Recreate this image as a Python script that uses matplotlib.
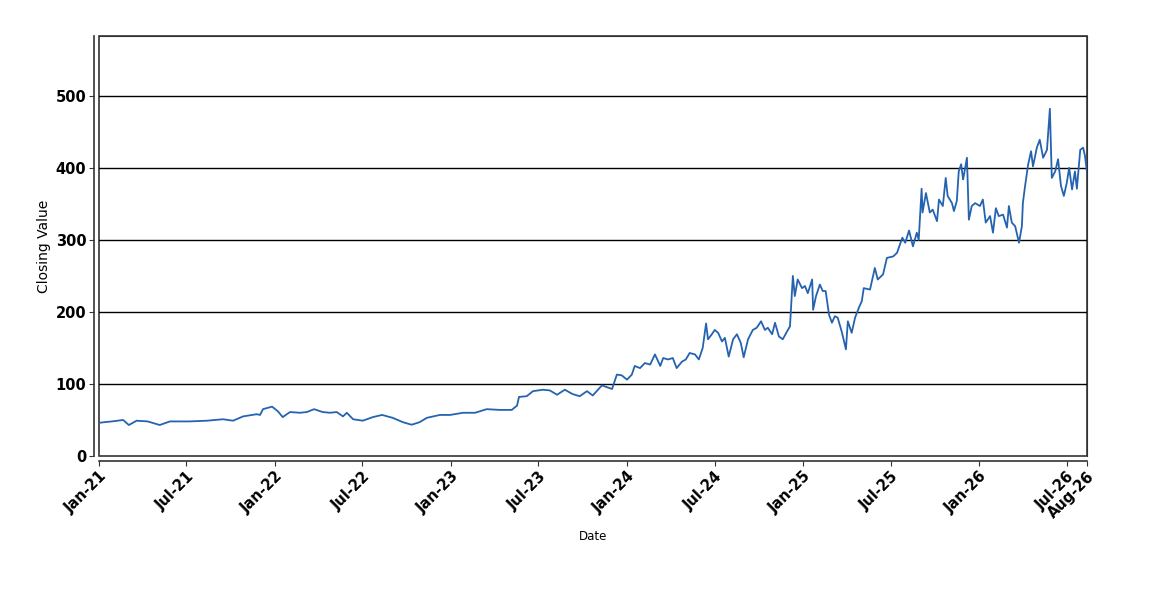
import matplotlib
matplotlib.use("Agg")
import matplotlib.pyplot as plt
import matplotlib.dates as mdates
import pandas as pd

# closing values
dates = [
    "2021-01-01", "2021-01-13", "2021-01-28", "2021-02-20", "2021-03-04", "2021-03-20",
    "2021-04-12", "2021-05-07", "2021-05-28", "2021-07-08", "2021-08-13", "2021-09-15",
    "2021-10-06", "2021-10-27", "2021-11-24", "2021-12-01", "2021-12-07", "2021-12-26",
    "2022-01-07", "2022-01-17", "2022-02-01", "2022-02-22", "2022-03-08", "2022-03-23",
    "2022-04-10", "2022-04-25", "2022-05-09", "2022-05-22", "2022-05-30", "2022-06-12",
    "2022-07-02", "2022-07-23", "2022-08-11", "2022-09-02", "2022-09-23", "2022-10-08",
    "2022-10-12", "2022-10-28", "2022-11-12", "2022-12-09", "2022-12-30",
    "2023-01-26", "2023-02-20", "2023-03-16", "2023-04-12", "2023-05-07", "2023-05-18",
    "2023-05-22", "2023-06-07", "2023-06-20", "2023-07-11", "2023-07-25", "2023-08-09",
    "2023-08-25", "2023-09-10", "2023-09-25", "2023-10-10", "2023-10-22", "2023-11-10",
    "2023-12-01", "2023-12-11", "2023-12-21",
    "2024-01-01", "2024-01-11", "2024-01-17", "2024-01-28", "2024-02-07", "2024-02-18",
    "2024-02-28", "2024-03-10", "2024-03-16", "2024-03-26", "2024-04-05", "2024-04-13",
    "2024-04-24", "2024-05-02", "2024-05-10", "2024-05-21", "2024-05-29", "2024-06-06",
    "2024-06-13", "2024-06-17", "2024-06-25", "2024-07-01", "2024-07-08", "2024-07-16",
    "2024-07-22", "2024-07-30", "2024-08-08", "2024-08-16", "2024-08-24", "2024-08-30",
    "2024-09-08", "2024-09-18", "2024-09-26", "2024-10-05", "2024-10-13", "2024-10-19",
    "2024-10-28", "2024-11-03", "2024-11-11", "2024-11-19", "2024-11-28", "2024-12-04",
    "2024-12-10", "2024-12-14", "2024-12-20", "2024-12-29",
    "2025-01-04", "2025-01-10", "2025-01-19", "2025-01-21", "2025-01-27", "2025-02-04",
    "2025-02-10", "2025-02-16", "2025-02-23", "2025-03-01", "2025-03-07", "2025-03-13",
    "2025-03-22", "2025-03-30", "2025-04-03", "2025-04-11", "2025-04-18", "2025-04-26",
    "2025-05-02", "2025-05-06", "2025-05-19", "2025-05-29", "2025-06-04", "2025-06-15",
    "2025-06-23", "2025-07-06", "2025-07-14", "2025-07-25", "2025-07-31", "2025-08-08",
    "2025-08-16", "2025-08-24", "2025-08-28", "2025-09-03", "2025-09-05", "2025-09-12",
    "2025-09-20", "2025-09-26", "2025-10-05", "2025-10-09", "2025-10-17", "2025-10-23",
    "2025-10-27", "2025-11-05", "2025-11-09", "2025-11-15", "2025-11-19", "2025-11-24",
    "2025-11-28", "2025-11-30", "2025-12-06", "2025-12-10", "2025-12-16", "2025-12-23",
    "2026-01-02", "2026-01-08", "2026-01-14", "2026-01-23", "2026-01-29", "2026-02-04",
    "2026-02-10", "2026-02-19", "2026-02-27", "2026-03-03", "2026-03-09", "2026-03-16",
    "2026-03-24", "2026-03-30", "2026-04-01", "2026-04-05", "2026-04-12", "2026-04-18",
    "2026-04-22", "2026-04-30", "2026-05-06", "2026-05-13", "2026-05-21", "2026-05-27",
    "2026-05-31", "2026-06-07", "2026-06-13", "2026-06-19", "2026-06-25", "2026-07-01",
    "2026-07-06", "2026-07-12", "2026-07-18", "2026-07-22", "2026-07-29", "2026-08-04",
    "2026-08-08", "2026-08-12",
]
closing = [
    46, 47, 48, 50, 43, 49,
    48, 43, 48, 48, 49, 51,
    49, 55, 58, 57, 65, 68.5,
    62, 54, 61, 60, 61, 65,
    61, 60, 61, 55, 60, 51,
    49, 54, 57, 53, 47, 44,
    43.5, 47, 53, 57, 57,
    60, 60, 65, 64, 64, 70,
    82, 83, 90, 92, 91, 85,
    92, 86, 83, 90, 84, 98,
    93, 113, 112,
    106, 113, 125, 122, 129, 127,
    141, 125, 136, 134, 136, 122,
    131, 134, 143, 141, 134, 150,
    184, 162, 169, 175, 171, 159,
    164, 138, 162, 169, 157, 137,
    162, 175, 178, 187, 175, 178,
    169, 185, 166, 162, 173, 180,
    250, 222, 245, 233,
    236, 226, 245, 203, 222, 238,
    229, 229, 196, 185, 194, 192,
    171, 148, 187, 171, 192, 206,
    215, 233, 231, 261, 245, 252,
    275, 277, 282, 303, 296, 313,
    291, 310, 300, 371, 338, 365,
    338, 342, 326, 356, 347, 386,
    361, 351, 340, 354, 395, 405,
    384, 391, 414, 328, 347, 351,
    347, 356, 324, 333, 310, 344,
    333, 335, 317, 347, 324, 319,
    296, 319, 351, 372, 405, 423,
    402, 428, 439, 414, 425, 482,
    386, 395, 412, 375, 361, 379,
    400, 370, 395, 371, 425, 428,
    416, 393,
]
tick_dates = ["2021-01-01", "2021-07-01", "2022-01-01", "2022-07-01", "2023-01-01",
              "2023-07-01", "2024-01-01", "2024-07-01", "2025-01-01", "2025-07-01",
              "2026-01-01", "2026-07-01", "2026-08-12"]

x = pd.to_datetime(dates)
ticks = pd.to_datetime(tick_dates)

fig = plt.figure(figsize=(11.5, 6), dpi=100)
ax = fig.add_axes([99/1150, 144/600, 988/1150, 420/600])

ax.plot(x, closing, color="#2563b0", lw=1.3)

ax.set_xlim(x[0], x[-1])
ax.set_ylim(0, 583)
ax.set_yticks([0, 100, 200, 300, 400, 500])
for v in [100, 200, 300, 400, 500]:
    ax.axhline(v, color="black", lw=1, zorder=1)

ax.set_xticks(ticks)
ax.xaxis.set_major_formatter(mdates.DateFormatter("%b-%y"))

# box around the plot plus offset left/bottom axis lines
ax.patch.set_edgecolor("#333333")
ax.patch.set_linewidth(1.2)
for s in ["top", "right"]:
    ax.spines[s].set_color("#333333")
for s in ["left", "bottom"]:
    ax.spines[s].set_position(("outward", 3.6))
    ax.spines[s].set_color("#333333")
    ax.spines[s].set_linewidth(1.2)

ax.tick_params(axis="both", direction="out", length=3.5, color="#333333",
               labelsize=10.5, pad=2)
for lab in ax.get_yticklabels():
    lab.set_fontweight("bold")
for lab in ax.get_xticklabels():
    lab.set_fontweight("bold")
    lab.set_rotation(45)
    lab.set_ha("right")
    lab.set_rotation_mode("anchor")

ax.set_ylabel("Closing Value", fontsize=10)
ax.yaxis.set_label_coords(-0.049, 0.5)
ax.set_xlabel("Date", fontsize=8.5)
ax.xaxis.set_label_coords(0.5, -0.176)

fig.savefig("out.png", dpi=100)
